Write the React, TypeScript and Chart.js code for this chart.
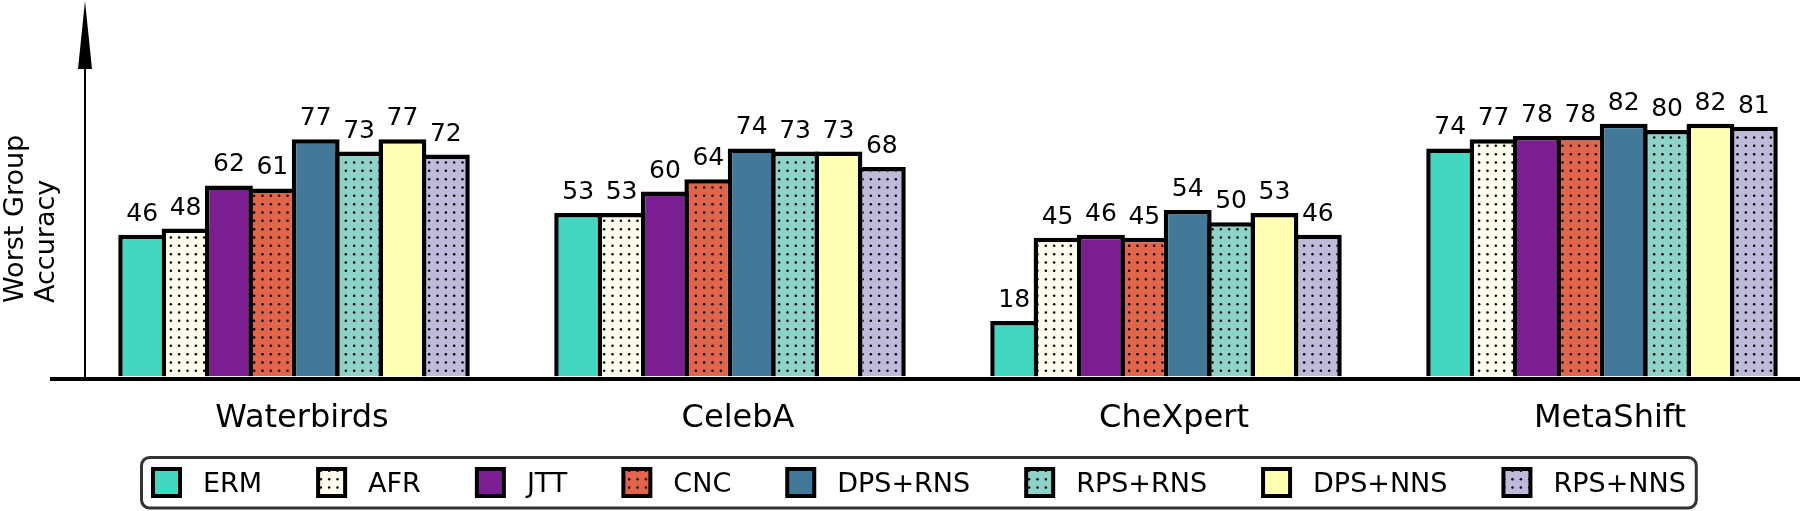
import React, { useEffect, useRef } from "react";
import { Chart, registerables } from "chart.js";

Chart.register(...registerables);

const categories = ["Waterbirds", "CelebA", "CheXpert", "MetaShift"];
const methods = ["ERM", "AFR", "JTT", "CNC", "DPS+RNS", "RPS+RNS", "DPS+NNS", "RPS+NNS"];

const ermValues = [46, 53, 18, 74];
const afrValues = [48, 53, 45, 77];
const jttValues = [62, 60, 46, 78];
const cncValues = [61, 64, 45, 78];
const dpsRnsValues = [77, 74, 54, 82];
const rpsRnsValues = [73, 73, 50, 80];
const dpsNnsValues = [77, 73, 53, 82];
const rpsNnsValues = [72, 68, 46, 81];

const seriesValues = [
  ermValues,
  afrValues,
  jttValues,
  cncValues,
  dpsRnsValues,
  rpsRnsValues,
  dpsNnsValues,
  rpsNnsValues,
];

const colors = ["#43D6C0", "#FFFDEE", "#7B1E91", "#E0654B", "#427898", "#8DD3C7", "#FFFFB3", "#BEBADA"];
const dotted = [false, true, false, true, false, true, false, true];

const FONT = '"DejaVu Sans", sans-serif';

function makeFill(color: string, dots: boolean): any {
  if (!dots) return color;
  const size = 25;
  const c = document.createElement("canvas");
  c.width = size;
  c.height = size;
  const g = c.getContext("2d")!;
  g.fillStyle = color;
  g.fillRect(0, 0, size, size);
  g.fillStyle = "#000";
  const step = size / 3;
  for (let i = 0; i < 3; i++) {
    for (let j = 0; j < 3; j++) {
      g.beginPath();
      g.arc(step / 2 + i * step, step / 2 + j * step, 1.25, 0, Math.PI * 2);
      g.fill();
    }
  }
  const p = g.createPattern(c, "repeat");
  return p || color;
}

const decorPlugin = {
  id: "decor",
  afterDatasetsDraw(chart: any) {
    const ctx = chart.ctx;
    ctx.save();
    ctx.font = `25px ${FONT}`;
    ctx.fillStyle = "#000";
    ctx.textAlign = "center";
    ctx.textBaseline = "alphabetic";
    chart.data.datasets.forEach((ds: any, di: number) => {
      const meta = chart.getDatasetMeta(di);
      meta.data.forEach((el: any, i: number) => {
        const v = seriesValues[di][i];
        ctx.fillText(String(v), el.x, el.y - 14);
      });
    });
    ctx.restore();
  },
  afterDraw(chart: any) {
    const ctx = chart.ctx;
    const area = chart.chartArea;
    // y-axis arrow
    ctx.save();
    const ax = area.left + 33;
    ctx.strokeStyle = "#000";
    ctx.lineWidth = 2;
    ctx.beginPath();
    ctx.moveTo(ax, area.bottom);
    ctx.lineTo(ax, 69);
    ctx.stroke();
    ctx.fillStyle = "#000";
    ctx.beginPath();
    ctx.moveTo(ax - 7, 69);
    ctx.lineTo(ax + 7, 69);
    ctx.lineTo(ax, 1);
    ctx.closePath();
    ctx.fill();
    ctx.restore();

    // y title
    ctx.save();
    ctx.font = `27px ${FONT}`;
    ctx.fillStyle = "#000";
    ctx.textAlign = "left";
    ctx.textBaseline = "alphabetic";
    const lines = ["Worst Group", "Accuracy"];
    const xs = [23, 53.5];
    lines.forEach((t, k) => {
      ctx.save();
      ctx.translate(xs[k], 303);
      ctx.rotate(-Math.PI / 2);
      ctx.fillText(t, 0, 0);
      ctx.restore();
    });
    ctx.restore();

    // legend
    ctx.save();
    ctx.font = `27px ${FONT}`;
    const boxLeft = 140;
    const boxTop = 456;
    const boxBottom = 509.5;
    const sw = 31;
    const swTop = 467;
    const items: { x: number; label: string; idx: number }[] = [];
    let x = 151;
    let lastEnd = x;
    chart.data.datasets.forEach((ds: any, di: number) => {
      items.push({ x, label: ds.label, idx: di });
      const tw = ctx.measureText(ds.label).width;
      lastEnd = x + sw + 21 + tw;
      x = lastEnd + 54;
    });
    const boxRight = lastEnd + 12;
    ctx.lineWidth = 3;
    ctx.strokeStyle = "#333";
    ctx.fillStyle = "#fff";
    ctx.beginPath();
    (ctx as any).roundRect(boxLeft + 1.5, boxTop + 1.5, boxRight - boxLeft - 3, boxBottom - boxTop - 3, 8);
    ctx.fill();
    ctx.stroke();
    items.forEach((it) => {
      const ds = chart.data.datasets[it.idx];
      ctx.fillStyle = "#000";
      ctx.fillRect(it.x, swTop, sw, sw);
      ctx.fillStyle = ds.backgroundColor;
      ctx.fillRect(it.x + 4, swTop + 4, sw - 8, sw - 8);
      ctx.fillStyle = "#000";
      ctx.textAlign = "left";
      ctx.textBaseline = "alphabetic";
      ctx.fillText(it.label, it.x + sw + 21, 491.5);
    });
    ctx.restore();
  },
};

export default function App() {
  const canvasRef = useRef<HTMLCanvasElement | null>(null);

  useEffect(() => {
    if (!canvasRef.current) return;
    const datasets = methods.map((m, di) => ({
      label: m,
      data: categories.map((c, i) => ({ x: i, y: seriesValues[di][i] })),
      backgroundColor: makeFill(colors[di], dotted[di]),
      borderColor: "#000",
      borderWidth: 4.5,
      borderSkipped: "start",
      categoryPercentage: 0.7959,
      barPercentage: 1.1036,
    }));
    const yMin = -0.7;
    const padTop = 10;
    const bottomPx = 378.5;
    const pxPerUnit = 3.08;
    const yMax = yMin + (bottomPx - padTop) / pxPerUnit;
    const xMin = -(294 - 52) / 436;
    const xMax = xMin + 1748 / 436;

    const chart = new Chart(canvasRef.current, {
      type: "bar",
      data: { datasets: datasets as any },
      options: {
        animation: false,
        responsive: true,
        maintainAspectRatio: false,
        devicePixelRatio: 1,
        layout: { padding: { left: 52, right: 0, top: padTop, bottom: 0 } },
        plugins: {
          legend: { display: false },
          tooltip: { enabled: false },
        },
        scales: {
          x: {
            type: "linear",
            min: xMin,
            max: xMax,
            offset: false,
            z: 1,
            grid: { display: false },
            border: { display: true, color: "#000", width: 4 },
            afterBuildTicks: (axis: any) => {
              axis.ticks = categories.map((_, i) => ({ value: i }));
            },
            afterFit: (axis: any) => {
              axis.height = 511 - bottomPx;
            },
            ticks: {
              autoSkip: false,
              maxRotation: 0,
              minRotation: 0,
              padding: 13,
              labelOffset: 8,
              color: "#000",
              font: { family: FONT, size: 32 },
              callback: (v: any) => categories[Math.round(Number(v))] ?? "",
            },
          },
          y: {
            display: false,
            min: yMin,
            max: yMax,
          },
        },
      },
      plugins: [decorPlugin],
    });
    return () => chart.destroy();
  }, []);

  return (
    <div style={{ position: "absolute", left: 0, top: 0, width: 1800, height: 511 }}>
      <canvas ref={canvasRef} />
    </div>
  );
}
